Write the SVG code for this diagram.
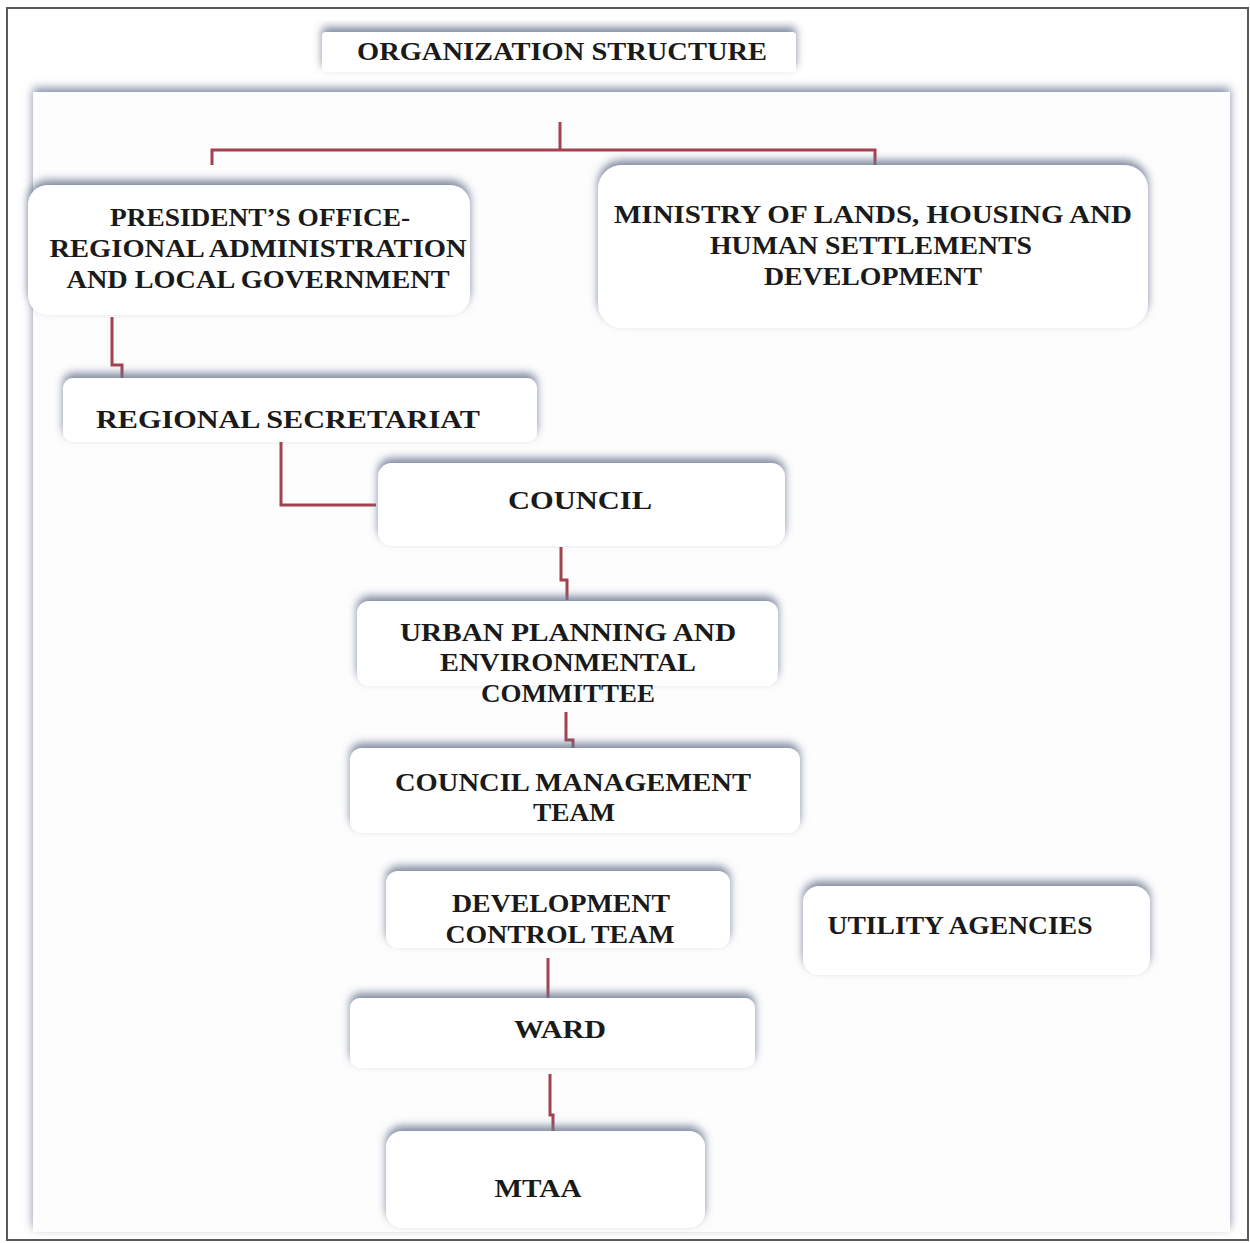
<svg xmlns="http://www.w3.org/2000/svg" width="1250" height="1243" viewBox="0 0 1250 1243">
<defs>
<filter id="sh" x="-10%" y="-30%" width="120%" height="160%">
<feDropShadow dx="0" dy="-5" stdDeviation="4" flood-color="#6a7690" flood-opacity="0.85"/>
</filter>
<filter id="psh" x="-5%" y="-5%" width="110%" height="110%">
<feDropShadow dx="0" dy="-4" stdDeviation="5" flood-color="#76829a" flood-opacity="0.9"/>
</filter>
</defs>
<style>
.box{fill:#ffffff;filter:url(#sh)}
.t{font-family:"Liberation Serif","Times New Roman",serif;font-weight:bold;font-size:25px;fill:#1a1a1a;text-anchor:middle}
.c{fill:none;stroke:#a3434f;stroke-width:3}
</style>
<rect x="0" y="0" width="1250" height="1243" fill="#ffffff"/>
<rect x="7" y="8" width="1241" height="1232" fill="#ffffff" stroke="#5a5a5a" stroke-width="2"/>
<g id="panel"><rect x="33" y="92" width="1197" height="1140" fill="#fdfdfe" filter="url(#psh)"/></g>
<g id="title"><rect class="box" x="322" y="32" width="474" height="40" rx="4"/><text class="t" x="562" y="60" textLength="410" lengthAdjust="spacingAndGlyphs">ORGANIZATION STRUCTURE</text></g>
<g id="connectors">
<path class="c" d="M560 122 V150 M212 165 V150 H875 V165"/>
<path class="c" d="M112 317 V365 H122 V380"/>
<path class="c" d="M281 442 V505 H376"/>
<path class="c" d="M561 547 V580 H567 V600"/>
<path class="c" d="M566 712 V740 H573 V750"/>
<path class="c" d="M548 958 V998"/>
<path class="c" d="M550 1074 V1115 H553 V1132"/>
</g>
<g id="president"><rect class="box" x="28" y="185" width="442" height="130" rx="20"/>
<text class="t" x="260" y="226" textLength="300" lengthAdjust="spacingAndGlyphs">PRESIDENT’S OFFICE-</text>
<text class="t" x="258" y="257" textLength="417" lengthAdjust="spacingAndGlyphs">REGIONAL ADMINISTRATION</text>
<text class="t" x="258" y="288" textLength="383" lengthAdjust="spacingAndGlyphs">AND LOCAL GOVERNMENT</text></g>
<g id="ministry"><rect class="box" x="598" y="165" width="550" height="163" rx="24"/>
<text class="t" x="873" y="223" textLength="518" lengthAdjust="spacingAndGlyphs">MINISTRY OF LANDS, HOUSING AND</text>
<text class="t" x="871" y="254" textLength="322" lengthAdjust="spacingAndGlyphs">HUMAN SETTLEMENTS</text>
<text class="t" x="873" y="285" textLength="218" lengthAdjust="spacingAndGlyphs">DEVELOPMENT</text></g>
<g id="regional"><rect class="box" x="63" y="378" width="474" height="64" rx="10"/>
<text class="t" x="288" y="428" textLength="384" lengthAdjust="spacingAndGlyphs">REGIONAL SECRETARIAT</text></g>
<g id="council"><rect class="box" x="378" y="463" width="407" height="83" rx="14"/>
<text class="t" x="580" y="509" textLength="144" lengthAdjust="spacingAndGlyphs">COUNCIL</text></g>
<g id="urban"><rect class="box" x="357" y="601" width="421" height="85" rx="12"/>
<text class="t" x="568" y="641" textLength="336" lengthAdjust="spacingAndGlyphs">URBAN PLANNING AND</text>
<text class="t" x="568" y="671" textLength="256" lengthAdjust="spacingAndGlyphs">ENVIRONMENTAL</text>
<text class="t" x="568" y="702" textLength="174" lengthAdjust="spacingAndGlyphs">COMMITTEE</text></g>
<g id="cmt"><rect class="box" x="350" y="748" width="450" height="85" rx="12"/>
<text class="t" x="573" y="791" textLength="356" lengthAdjust="spacingAndGlyphs">COUNCIL MANAGEMENT</text>
<text class="t" x="574" y="821" textLength="82" lengthAdjust="spacingAndGlyphs">TEAM</text></g>
<g id="dct"><rect class="box" x="386" y="871" width="344" height="77" rx="12"/>
<text class="t" x="561" y="912" textLength="218" lengthAdjust="spacingAndGlyphs">DEVELOPMENT</text>
<text class="t" x="560" y="943" textLength="229" lengthAdjust="spacingAndGlyphs">CONTROL TEAM</text></g>
<g id="utility"><rect class="box" x="803" y="886" width="347" height="89" rx="16"/>
<text class="t" x="960" y="934" textLength="265" lengthAdjust="spacingAndGlyphs">UTILITY AGENCIES</text></g>
<g id="ward"><rect class="box" x="350" y="998" width="405" height="70" rx="10"/>
<text class="t" x="560" y="1038" textLength="92" lengthAdjust="spacingAndGlyphs">WARD</text></g>
<g id="mtaa"><rect class="box" x="386" y="1131" width="319" height="97" rx="16"/>
<text class="t" x="538" y="1197" textLength="87" lengthAdjust="spacingAndGlyphs">MTAA</text></g>
</svg>
